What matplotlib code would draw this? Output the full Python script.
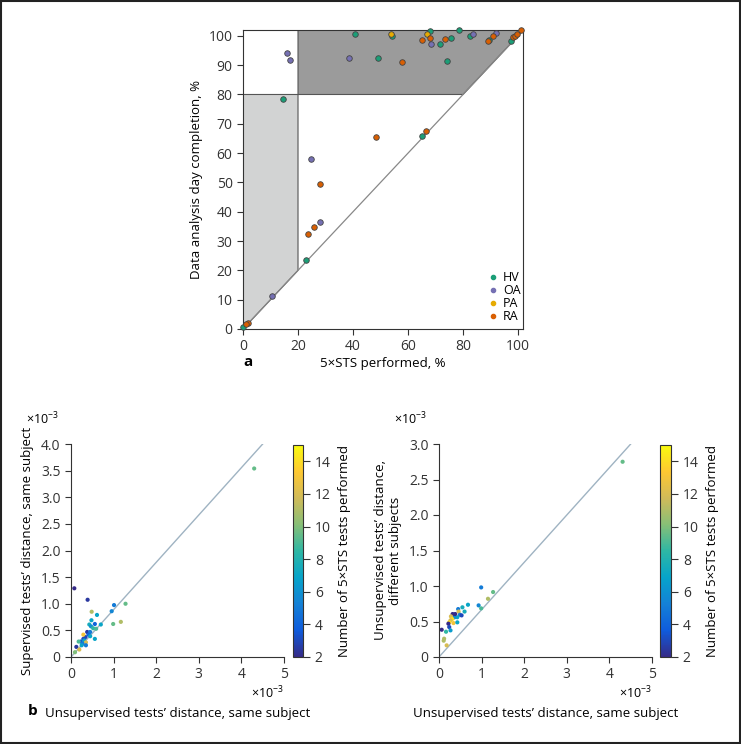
import matplotlib.pyplot as plt
import numpy as np
from matplotlib.colors import LinearSegmentedColormap
from matplotlib.patches import Polygon, Rectangle

plt.rcParams['font.family'] = ['Open Sans', 'DejaVu Sans']
plt.rcParams['font.size'] = 9
plt.rcParams['axes.edgecolor'] = '#333333'
plt.rcParams['xtick.color'] = '#333333'
plt.rcParams['ytick.color'] = '#333333'
plt.rcParams['xtick.labelsize'] = 10
plt.rcParams['ytick.labelsize'] = 10
plt.rcParams['mathtext.fontset'] = 'custom'
plt.rcParams['mathtext.rm'] = 'Open Sans'

# ---- panel a data: (5xSTS performed %, data analysis day completion %)
hv_x = [14.5, 40.6, 49.2, 54.3, 68.1, 71.7, 75.6, 74.2, 78.4, 82.5, 89.6, 97.5, 65.2, 23.0, 0.1]
hv_y = [78.4, 100.7, 92.4, 99.8, 101.7, 97.3, 99.2, 91.4, 101.9, 99.8, 98.7, 98.4, 66.0, 23.7, 0.7]
oa_x = [16.1, 17.2, 38.7, 68.4, 83.5, 91.9, 24.6, 27.9, 10.7]
oa_y = [94.3, 91.7, 92.4, 97.3, 100.8, 100.9, 58.0, 36.6, 11.2]
pa_x = [53.8, 66.8]
pa_y = [100.7, 100.5]
ra_x = [57.7, 68.0, 65.2, 73.6, 90.9, 89.2, 98.2, 98.9, 99.5, 101.0, 48.4, 66.7, 27.9, 25.9, 23.5, 1.8, 1.2]
ra_y = [91.2, 99.2, 98.7, 98.8, 100.0, 98.3, 99.5, 100.1, 100.5, 101.9, 65.5, 67.4, 49.6, 34.7, 32.4, 2.2, 1.6]

groups = ['HV', 'OA', 'PA', 'RA']
group_colors = ['#1b9e77', '#7570b3', '#e6ab02', '#d95f02']

# ---- panel b data (x10^-3)
b1_x = [0.078, 0.39, 0.485, 0.61, 1.01, 0.955, 1.28, 1.17, 0.99, 0.70, 0.56, 0.48, 0.43, 0.47, 0.52,
        0.59, 0.38, 0.45, 0.41, 0.45, 0.56, 0.34, 0.29, 0.23, 0.18, 0.31, 0.35, 0.27, 0.35, 0.25,
        0.125, 0.195, 0.094, 0.29, 4.3]
b1_y = [1.29, 1.075, 0.85, 0.79, 0.975, 0.86, 1.0, 0.66, 0.62, 0.61, 0.62, 0.69, 0.61, 0.575, 0.54,
        0.53, 0.47, 0.47, 0.42, 0.39, 0.34, 0.375, 0.34, 0.29, 0.29, 0.31, 0.275, 0.25, 0.22, 0.22,
        0.19, 0.14, 0.09, 0.42, 3.54]
b1_n = [2, 2.5, 11, 7, 5, 5.5, 9.5, 11, 9.5, 7, 4, 7, 7.5, 6, 8.5,
        9, 2.5, 5, 4, 7, 7, 3, 3, 3.5, 9, 7, 12, 5, 5, 7,
        2.5, 12, 10, 13, 9.5]

b2_x = [4.31, 0.99, 1.27, 1.15, 0.93, 0.99, 0.68, 0.55, 0.60, 0.45, 0.46, 0.49, 0.53, 0.43, 0.36,
        0.38, 0.32, 0.28, 0.31, 0.27, 0.24, 0.34, 0.43, 0.22, 0.24, 0.27, 0.165, 0.063, 0.11, 0.12,
        0.18]
b2_y = [2.75, 0.98, 0.915, 0.82, 0.727, 0.685, 0.736, 0.70, 0.64, 0.675, 0.64, 0.595, 0.586, 0.56, 0.558,
        0.605, 0.605, 0.572, 0.535, 0.516, 0.488, 0.478, 0.488, 0.469, 0.422, 0.375, 0.356, 0.384, 0.23, 0.258,
        0.164]
b2_n = [9.5, 5, 9.5, 11, 5.5, 9, 7, 7.5, 7.5, 5, 12, 5, 3, 7, 6,
        2, 2, 12, 14, 12, 14, 13, 7, 2, 3, 6.5, 8.5, 2, 11, 11,
        12]

parula = LinearSegmentedColormap.from_list('parula', [
    '#352a87', '#0f5cdd', '#1481d6', '#06a4ca', '#2eb7a4',
    '#87bf77', '#d1bb59', '#fec832', '#f9fb0e'])

fig = plt.figure(figsize=(7.41, 7.44), dpi=100)
fig.patches.append(Rectangle((0.002, 0.002), 0.996, 0.996, transform=fig.transFigure,
                             fill=False, edgecolor='#222222', linewidth=1.5))

# ---------------- panel a
ax = fig.add_axes([243 / 741, 1 - 329 / 744, 280 / 741, 299 / 744])
ax.set_xlim(0, 101.8)
ax.set_ylim(0, 102)
ax.add_patch(Polygon([(0, 0), (20, 20), (20, 80), (0, 80)], closed=True,
                     facecolor='#d2d3d3', edgecolor='#555555', linewidth=0.8, zorder=1))
ax.add_patch(Polygon([(20, 80), (80, 80), (100, 100), (101.8, 102), (20, 102)], closed=True,
                     facecolor='#9b9b9b', edgecolor='#555555', linewidth=0.8, zorder=1))
ax.plot([0, 100], [0, 100], color='#888888', linewidth=0.9, zorder=2)

for name, xs, ys, c in zip(groups, [hv_x, oa_x, pa_x, ra_x], [hv_y, oa_y, pa_y, ra_y], group_colors):
    ax.scatter(xs, ys, s=16, c=c, edgecolors='#444444', linewidths=0.6, zorder=3, clip_on=False)
    ax.plot([], [], 'o', color=c, markersize=3, label=name)

ax.legend(loc='upper left', bbox_to_anchor=((489 - 243) / 280, (329 - 271) / 299), frameon=False,
          handlelength=0.6, handletextpad=0.5, labelspacing=0.0, borderaxespad=0.0,
          borderpad=0.0, fontsize=9)
ax.set_xticks(np.arange(0, 101, 20))
ax.set_yticks(np.arange(0, 101, 10))
ax.tick_params(direction='out', length=4, width=0.8)
ax.set_xlabel('5×STS performed, %', fontsize=9.5, labelpad=2)
ax.set_ylabel('Data analysis day completion, %', fontsize=9.5, labelpad=4)
fig.text(248 / 741, 1 - 362 / 744, 'a', fontsize=11, fontweight='bold', ha='center', va='center')
fig.text(33 / 741, 1 - 711 / 744, 'b', fontsize=11, fontweight='bold', ha='center', va='center')


def panel_b(rect, crect, xs, ys, ns, ymax, yticks, ylabel):
    bx = fig.add_axes(rect)
    bx.plot([0, 4.5], [0, ymax], color='#9fb3c2', linewidth=1.0, zorder=1)
    sc = bx.scatter(xs, ys, c=ns, cmap=parula, vmin=2, vmax=15, s=9, linewidths=0, zorder=2)
    bx.set_xlim(0, 5)
    bx.set_ylim(0, ymax)
    bx.set_xticks([0, 1, 2, 3, 4, 5])
    bx.set_yticks(yticks)
    bx.set_yticklabels(['0'] + ['%.1f' % t for t in yticks[1:]])
    bx.spines['top'].set_visible(False)
    bx.spines['right'].set_visible(False)
    bx.tick_params(direction='out', length=4, width=0.8)
    bx.set_xlabel('Unsupervised tests\u2019 distance, same subject', fontsize=9.5, labelpad=18)
    bx.set_ylabel(ylabel, fontsize=9.5, labelpad=5)
    bx.text(1.0, -0.13, '×10$^{-3}$', transform=bx.transAxes, ha='right', va='top', fontsize=9)
    bx.text(-0.21, 1.08, '×10$^{-3}$', transform=bx.transAxes, ha='left', va='bottom', fontsize=9)
    cax = fig.add_axes(crect)
    cb = fig.colorbar(sc, cax=cax, ticks=[2, 4, 6, 8, 10, 12, 14])
    cb.outline.set_edgecolor('#333333')
    cb.outline.set_linewidth(0.8)
    cax.tick_params(direction='out', length=5, width=0.8)
    cb.set_label('Number of 5×STS tests performed', fontsize=9.5, labelpad=5)
    return bx


panel_b([71 / 741, 1 - 657 / 744, 213 / 741, 213 / 744],
        [293 / 741, 1 - 657 / 744, 10 / 741, 212 / 744],
        b1_x, b1_y, b1_n, 4.0, [0, 0.5, 1.0, 1.5, 2.0, 2.5, 3.0, 3.5, 4.0],
        'Supervised tests\u2019 distance, same subject')
panel_b([439 / 741, 1 - 657 / 744, 213 / 741, 213 / 744],
        [660 / 741, 1 - 657 / 744, 11 / 741, 212 / 744],
        b2_x, b2_y, b2_n, 3.0, [0, 0.5, 1.0, 1.5, 2.0, 2.5, 3.0],
        'Unsupervised tests\u2019 distance,\ndifferent subjects')

fig.savefig('out.png', dpi=100)
